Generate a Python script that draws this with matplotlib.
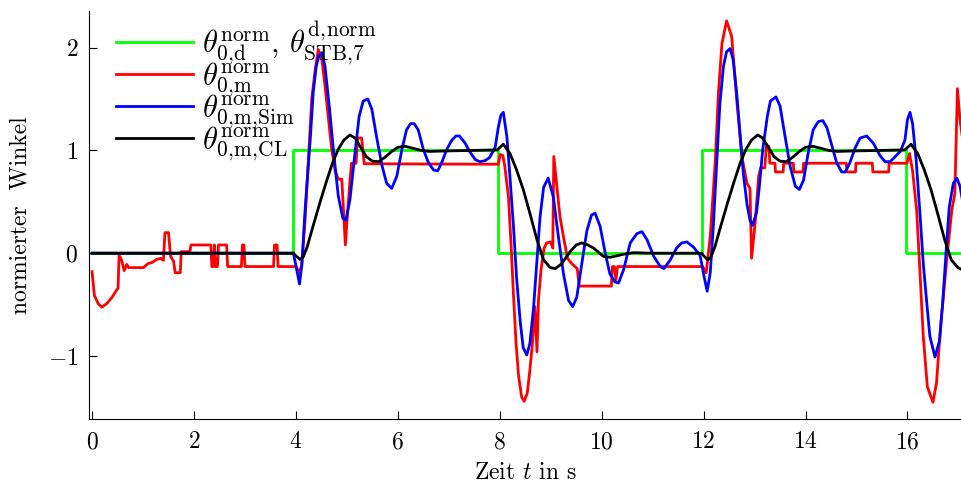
import numpy as np
import matplotlib
matplotlib.use("Agg")
import matplotlib.pyplot as plt

plt.rcParams["font.family"] = "serif"
plt.rcParams["font.serif"] = ["cmr10"]
plt.rcParams["mathtext.fontset"] = "cm"
plt.rcParams["axes.unicode_minus"] = False
plt.rcParams["font.size"] = 17

# reference angle (step command), normalised
t_ref = [0.0, 3.95, 3.95, 7.96, 7.96, 11.96, 11.96, 15.97, 15.97, 17.07]
theta_ref = [0, 0, 1, 1, 0, 0, 1, 1, 0, 0]

# measured angle
t_meas = [0.00, 0.045, 0.12, 0.19, 0.29, 0.39, 0.48, 0.51, 0.53, 0.58, 0.63, 0.68, 0.72,
          0.81, 1.01, 1.10, 1.18, 1.27, 1.35, 1.40, 1.43, 1.50, 1.54, 1.60, 1.63, 1.73,
          1.75, 1.92, 1.94, 2.33, 2.35, 2.38, 2.40, 2.42, 2.46, 2.48, 2.64, 2.66, 2.93,
          2.95, 2.98, 3.00, 3.56, 3.58, 3.63, 3.65, 4.00, 4.07, 4.11, 4.18, 4.25, 4.31,
          4.38, 4.44, 4.51, 4.57, 4.64, 4.70, 4.77, 4.83, 4.90, 4.93, 4.97, 5.02, 5.06,
          5.09, 5.18, 5.21, 5.29, 5.34, 7.97, 8.01, 8.06, 8.10, 8.17, 8.22, 8.27, 8.32,
          8.37, 8.43, 8.48, 8.54, 8.59, 8.64, 8.69, 8.73, 8.76, 8.81, 8.87, 8.92, 9.00,
          9.04, 9.06, 9.10, 9.18, 9.26, 9.33, 9.41, 9.52, 9.56, 10.19, 10.21, 10.25,
          10.28, 10.31, 11.98, 12.05, 12.13, 12.23, 12.29, 12.36, 12.45, 12.55, 12.65,
          12.75, 12.85, 12.91, 12.94, 13.01, 13.08, 13.12, 13.20, 13.23, 13.28, 13.30,
          13.40, 13.41, 13.56, 13.57, 13.76, 13.77, 13.95, 13.96, 14.80, 14.81, 14.98,
          14.99, 15.31, 15.32, 15.63, 15.64, 15.99, 16.04, 16.10, 16.18, 16.25, 16.31,
          16.39, 16.50, 16.57, 16.65, 16.77, 16.87, 16.93, 16.98, 17.03, 17.07]
theta_meas = [-0.18, -0.41, -0.49, -0.525, -0.49, -0.43, -0.36, -0.34, -0.02, -0.07, -0.17,
              -0.11, -0.14, -0.14, -0.14, -0.10, -0.09, -0.06, -0.05, -0.07, 0.20, 0.20,
              -0.03, -0.08, -0.19, -0.19, 0.015, 0.015, 0.08, 0.08, -0.13, -0.13, 0.08,
              -0.13, -0.13, 0.08, 0.08, -0.13, -0.13, 0.08, 0.08, -0.13, -0.13, 0.08, 0.08,
              -0.13, -0.13, -0.19, -0.12, 0.32, 0.96, 1.50, 1.79, 1.98, 1.88, 1.63, 1.30,
              1.02, 0.80, 0.72, 0.72, 0.44, 0.08, 0.44, 0.70, 0.875, 0.875, 1.12, 1.12,
              0.87, 0.865, 0.96, 0.95, 0.84, 0.55, 0.10, -0.42, -0.88, -1.20, -1.40, -1.44,
              -1.36, -1.14, -0.88, -0.52, -0.96, -0.45, -0.16, 0.05, 0.10, 0.11, 0.05, 0.94,
              0.75, 0.36, 0.13, -0.05, -0.10, -0.15, -0.32, -0.32, -0.13, -0.13, -0.26,
              -0.13, -0.13, -0.19, 0.16, 0.91, 1.56, 2.04, 2.26, 2.11, 1.49, 0.94, 0.68,
              0.63, -0.05, 0.29, 0.75, 0.83, 0.83, 1.04, 1.04, 0.875, 0.875, 0.79, 0.79,
              0.875, 0.875, 0.79, 0.79, 0.875, 0.875, 0.79, 0.79, 0.875, 0.875, 0.79, 0.79,
              0.875, 0.875, 0.97, 0.80, 0.42, -0.23, -0.81, -1.30, -1.45, -1.26, -0.71,
              -0.065, 0.42, 0.58, 1.60, 1.30, 1.15]

# simulated angle
t_sim = [0.00, 3.95, 4.00, 4.07, 4.12, 4.17, 4.22, 4.28, 4.34, 4.40, 4.45, 4.51, 4.57,
         4.66, 4.74, 4.83, 4.92, 4.98, 5.06, 5.16, 5.24, 5.32, 5.41, 5.49, 5.59, 5.69,
         5.78, 5.88, 5.98, 6.08, 6.17, 6.25, 6.32, 6.40, 6.50, 6.60, 6.70, 6.78, 6.86,
         6.96, 7.06, 7.14, 7.21, 7.32, 7.42, 7.52, 7.61, 7.71, 7.80, 7.91, 7.97, 8.02,
         8.07, 8.14, 8.20, 8.27, 8.33, 8.40, 8.46, 8.53, 8.59, 8.66, 8.73, 8.79, 8.86,
         8.95, 9.05, 9.15, 9.25, 9.35, 9.43, 9.51, 9.61, 9.71, 9.80, 9.87, 9.97, 10.07,
         10.16, 10.26, 10.33, 10.43, 10.56, 10.69, 10.79, 10.89, 11.02, 11.15, 11.22,
         11.34, 11.47, 11.57, 11.67, 11.80, 11.93, 12.01, 12.07, 12.13, 12.19, 12.26,
         12.32, 12.39, 12.45, 12.52, 12.58, 12.65, 12.72, 12.78, 12.85, 12.91, 12.96,
         13.04, 13.10, 13.16, 13.25, 13.31, 13.42, 13.50, 13.60, 13.70, 13.80, 13.88,
         13.96, 14.05, 14.15, 14.25, 14.34, 14.42, 14.52, 14.61, 14.71, 14.78, 14.87,
         14.97, 15.07, 15.20, 15.33, 15.46, 15.56, 15.66, 15.76, 15.86, 15.95, 16.00,
         16.05, 16.10, 16.17, 16.25, 16.31, 16.38, 16.44, 16.54, 16.63, 16.69, 16.76,
         16.82, 16.90, 16.97, 17.03, 17.07]
theta_sim = [0.00, 0.00, -0.12, -0.30, -0.10, 0.35, 0.70, 1.10, 1.57, 1.82, 1.92, 1.95,
             1.82, 1.40, 0.98, 0.56, 0.34, 0.32, 0.52, 0.98, 1.33, 1.48, 1.50, 1.40, 1.11,
             0.85, 0.68, 0.63, 0.75, 1.01, 1.20, 1.26, 1.26, 1.20, 1.01, 0.88, 0.81, 0.80,
             0.88, 1.01, 1.10, 1.14, 1.14, 1.07, 0.98, 0.91, 0.89, 0.90, 0.93, 1.03, 1.22,
             1.34, 1.37, 1.13, 0.74, 0.25, -0.24, -0.66, -0.92, -0.99, -0.88, -0.55, -0.07,
             0.35, 0.64, 0.73, 0.55, 0.16, -0.20, -0.46, -0.52, -0.43, -0.10, 0.22, 0.37,
             0.39, 0.26, 0.00, -0.20, -0.28, -0.29, -0.16, 0.10, 0.19, 0.21, 0.13, -0.03,
             -0.13, -0.15, -0.07, 0.05, 0.10, 0.11, 0.06, -0.02, -0.23, -0.37, -0.19, 0.26,
             0.91, 1.46, 1.82, 1.96, 1.99, 1.88, 1.55, 1.13, 0.77, 0.48, 0.32, 0.27, 0.40,
             0.68, 1.01, 1.33, 1.48, 1.52, 1.43, 1.13, 0.84, 0.65, 0.62, 0.71, 0.97, 1.20,
             1.28, 1.29, 1.22, 1.04, 0.88, 0.79, 0.79, 0.88, 1.02, 1.12, 1.14, 1.07, 0.95,
             0.89, 0.89, 0.94, 0.99, 1.10, 1.30, 1.37, 1.26, 0.91, 0.35, -0.10, -0.49,
             -0.81, -1.01, -0.85, -0.49, 0.03, 0.45, 0.68, 0.73, 0.65, 0.54]

# closed-loop model
t_cl = [0.00, 3.95, 4.01, 4.08, 4.14, 4.22, 4.34, 4.47, 4.60, 4.72, 4.83, 4.94, 5.06,
        5.16, 5.27, 5.38, 5.50, 5.62, 5.74, 5.88, 6.00, 6.14, 6.30, 6.45, 6.62, 7.00,
        7.50, 7.95, 8.07, 8.20, 8.33, 8.46, 8.59, 8.73, 8.86, 8.99, 9.09, 9.22, 9.38,
        9.50, 9.61, 9.73, 9.84, 10.03, 10.16, 10.30, 10.43, 10.62, 11.00, 11.50, 11.96,
        12.02, 12.08, 12.14, 12.22, 12.34, 12.47, 12.60, 12.72, 12.83, 12.94, 13.06,
        13.16, 13.27, 13.38, 13.50, 13.62, 13.74, 13.88, 14.00, 14.14, 14.30, 14.45,
        14.62, 15.00, 15.50, 15.95, 16.07, 16.20, 16.33, 16.46, 16.59, 16.73, 16.86,
        16.99, 17.07]
theta_cl = [0.00, 0.00, -0.03, -0.06, -0.04, 0.06, 0.27, 0.49, 0.70, 0.88, 1.01, 1.10,
            1.15, 1.12, 1.03, 0.94, 0.895, 0.89, 0.93, 0.99, 1.03, 1.04, 1.02, 1.00, 0.99,
            0.995, 1.00, 1.005, 1.06, 0.97, 0.81, 0.62, 0.39, 0.13, -0.065, -0.14, -0.15,
            -0.10, 0.015, 0.08, 0.10, 0.08, 0.05, -0.03, -0.04, -0.025, -0.01, 0.005, 0.00,
            0.00, 0.00, -0.035, -0.065, -0.04, 0.06, 0.27, 0.49, 0.70, 0.88, 1.01, 1.10,
            1.15, 1.12, 1.03, 0.94, 0.895, 0.89, 0.93, 0.99, 1.03, 1.04, 1.02, 1.00, 0.99,
            0.995, 1.00, 1.005, 1.06, 0.97, 0.81, 0.62, 0.39, 0.13, -0.065, -0.14, -0.16]

x_ticks = [0, 2, 4, 6, 8, 10, 12, 14, 16]
y_ticks = [-1, 0, 1, 2]
y_ticklabels = [r"$-1$", r"$0$", r"$1$", r"$2$"]

labels = [r"$\theta^{\mathrm{norm}}_{0,\!\mathrm{d}}$, $\theta^{\mathrm{d},\!\mathrm{norm}}_{\mathrm{STB},\!7}$",
          r"$\theta^{\mathrm{norm}}_{0,\!\mathrm{m}}$",
          r"$\theta^{\mathrm{norm}}_{0,\!\mathrm{m},\!\mathrm{Sim}}$",
          r"$\theta^{\mathrm{norm}}_{0,\!\mathrm{m},\!\mathrm{CL}}$"]

fig = plt.figure(figsize=(9.62, 4.94), dpi=100)
ax = fig.add_axes([0.0928, 0.1524, 0.9072, 0.8256])

lw = 2.0
ax.plot(t_ref, theta_ref, color=(0, 1, 0), lw=lw, label=labels[0])
ax.plot(t_meas, theta_meas, color=(1, 0, 0), lw=lw, label=labels[1])
ax.plot(t_sim, theta_sim, color=(0, 0, 1), lw=lw, label=labels[2])
ax.plot(t_cl, theta_cl, color="black", lw=lw, label=labels[3])

ax.set_xlim(-0.055, 17.07)
ax.set_ylim(-1.61, 2.357)
ax.spines["top"].set_visible(False)
ax.spines["right"].set_visible(False)
ax.set_xticks(x_ticks)
ax.set_xticklabels([rf"${v}$" for v in x_ticks])
ax.set_yticks(y_ticks)
ax.set_yticklabels(y_ticklabels)
ax.tick_params(axis="both", direction="in", length=6, width=0.8)
ax.tick_params(axis="x", pad=9)
ax.tick_params(axis="y", pad=8)

ax.set_xlabel(r"Zeit $t$ in s", labelpad=6)
ax.set_ylabel("normierter  Winkel", labelpad=12)

ax.legend(loc="upper left", bbox_to_anchor=(0.031, 0.98), frameon=False,
          fontsize=22, handlelength=2.5, handletextpad=0.3,
          labelspacing=-0.22, borderaxespad=0, borderpad=0)

fig.savefig("out.png", dpi=100)
